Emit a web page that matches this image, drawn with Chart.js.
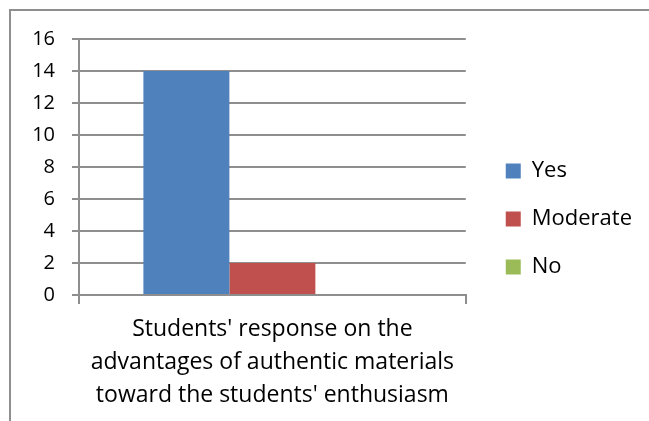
<!DOCTYPE html>
<html>
<head>
<meta charset="utf-8">
<script src="https://cdn.jsdelivr.net/npm/chart.js@4.4.1/dist/chart.umd.min.js"></script>
<style>
  html, body { margin: 0; padding: 0; background: #fff; overflow: hidden; }
  #wrap { position: relative; width: 649px; height: 421px; }
  #frame { position: absolute; left: 9px; top: 9px; width: 700px; height: 500px;
           border-left: 2px solid #8f8f8f; border-top: 2px solid #8f8f8f; }
  #chart { position: absolute; left: 0; top: 0; }
</style>
</head>
<body>
<div id="wrap">
  <div id="frame"></div>
  <canvas id="chart" width="649" height="421"></canvas>
</div>
<script>
// one category, three answers
let categories = [["Students' response on the", "advantages of authentic materials", "toward the students' enthusiasm"]];
let seriesNames = ['Yes', 'Moderate', 'No'];
let yesValues = [14];
let moderateValues = [2];
let noValues = [0];
let seriesColors = ['#4F81BD', '#C0504D', '#9BBB59'];
let yMin = 0, yMax = 16, yStep = 2;

let gridColor = '#8e8e8e';
let fontFamily = '"Open Sans", sans-serif';

// move the legend a bit right of the plot and up
const legendShift = {
  id: 'legendShift',
  afterLayout(chart) {
    chart.legend.left += 14;
    chart.legend.right += 14;
    chart.legend.top -= 11;
    chart.legend.bottom -= 11;
  }
};

function drawChart() {
  new Chart(document.getElementById('chart'), {
    type: 'bar',
    data: {
      labels: categories,
      datasets: [
        { label: seriesNames[0], data: yesValues, backgroundColor: seriesColors[0] },
        { label: seriesNames[1], data: moderateValues, backgroundColor: seriesColors[1] },
        { label: seriesNames[2], data: noValues, backgroundColor: seriesColors[2] }
      ]
    },
    options: {
      responsive: false,
      animation: false,
      events: [],
      layout: { padding: { left: 0, top: 39, right: 28, bottom: 0 } },
      datasets: {
        bar: { categoryPercentage: 0.667, barPercentage: 1, borderWidth: 0 }
      },
      scales: {
        x: {
          grid: { display: true, offset: true, drawOnChartArea: false, tickLength: 9, color: gridColor, lineWidth: 2 },
          border: { display: true, color: gridColor, width: 2 },
          ticks: { color: '#000', padding: 9, font: { family: fontFamily, size: 23, lineHeight: 1.43 } },
          afterFit: function (scale) { scale.height = 126; }
        },
        y: {
          min: yMin,
          max: yMax,
          ticks: { stepSize: yStep, color: '#000', padding: 17, font: { family: fontFamily, size: 20 } },
          grid: { color: gridColor, lineWidth: 2, tickLength: 7 },
          border: { display: true, color: gridColor, width: 2 },
          afterFit: function (scale) { scale.width = 79; }
        }
      },
      plugins: {
        tooltip: { enabled: false },
        legend: {
          position: 'right',
          align: 'center',
          labels: {
            boxWidth: 15,
            boxHeight: 15,
            padding: 26,
            color: '#000',
            font: { family: fontFamily, size: 22 }
          }
        }
      }
    },
    plugins: [legendShift]
  });
}

document.fonts.load('22px "Open Sans"').then(drawChart, drawChart);
</script>
</body>
</html>
